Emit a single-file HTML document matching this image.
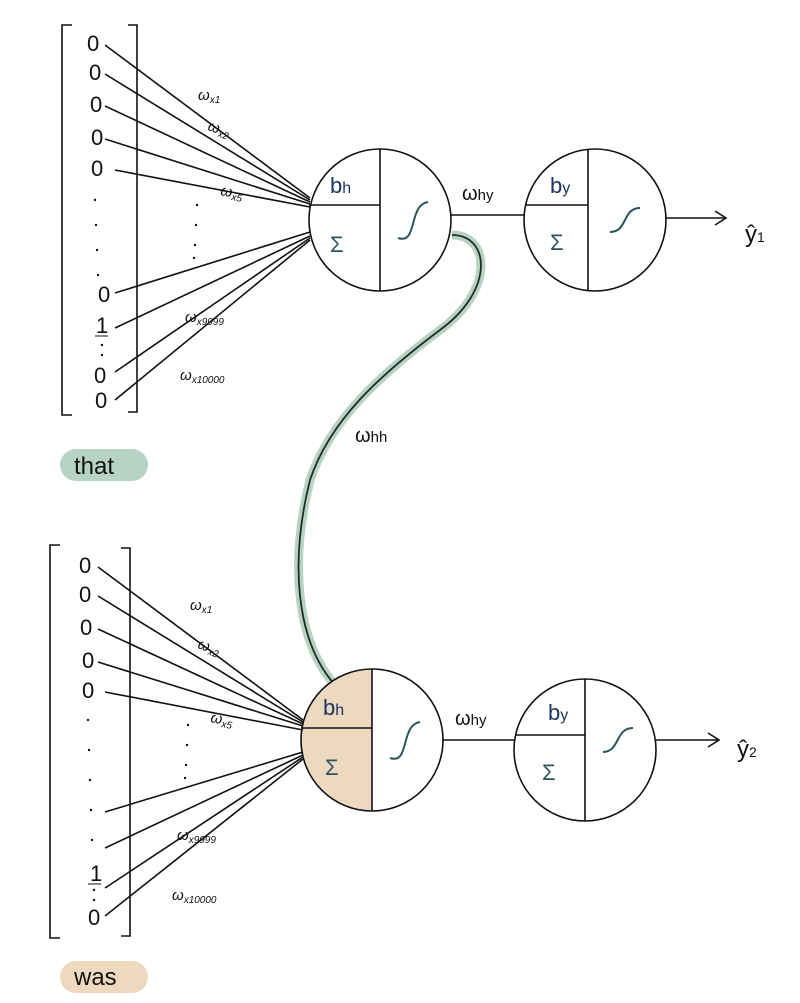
<!DOCTYPE html>
<html><head><meta charset="utf-8"><style>
body{margin:0;background:#fff}
svg{display:block}
text{font-family:"Liberation Sans",sans-serif;fill:#111}
</style></head><body>
<svg width="800" height="1003" viewBox="0 0 800 1003" xmlns="http://www.w3.org/2000/svg">
<g stroke="#111" stroke-width="1.6" fill="none">
<path d="M72 25 L62 25 L62 415 L72 415"/>
<path d="M128 25 L137 25 L137 412 L128 412"/>
<line x1="105" y1="45" x2="310" y2="198"/>
<line x1="105" y1="74" x2="310" y2="200"/>
<line x1="105" y1="106" x2="310" y2="202"/>
<line x1="105" y1="139" x2="310" y2="204"/>
<line x1="115" y1="170" x2="310" y2="207"/>
<line x1="115" y1="293" x2="310" y2="232"/>
<line x1="115" y1="328" x2="310" y2="236"/>
<line x1="115" y1="372" x2="310" y2="238"/>
<line x1="115" y1="400" x2="310" y2="240"/>
<circle cx="380" cy="220" r="71"/>
<line x1="380" y1="149" x2="380" y2="291"/>
<line x1="309" y1="205" x2="380" y2="205"/>
<circle cx="595" cy="220" r="71"/>
<line x1="588" y1="149" x2="588" y2="291"/>
<line x1="525" y1="205" x2="588" y2="205"/>
<line x1="451" y1="215" x2="524" y2="215"/>
<line x1="666" y1="218" x2="725" y2="218"/>
<path d="M715 211 L726 218 L715 225"/>
</g>
<path d="M452 235 C490 235 495 290 440 330 C380 375 330 420 310 480 C290 560 295 640 335 685" stroke="#b9d3c3" stroke-width="9" fill="none"/>
<path d="M452 235 C490 235 495 290 440 330 C380 375 330 420 310 480 C290 560 295 640 335 685" stroke="#1f2e25" stroke-width="1.8" fill="none"/>
<path d="M372 669 A71 71 0 0 0 372 811 Z" fill="#ecd9bf"/>
<g stroke="#111" stroke-width="1.6" fill="none">
<path d="M60 545 L50 545 L50 938 L60 938"/>
<path d="M121 548 L130 548 L130 936 L121 936"/>
<line x1="98" y1="567" x2="303" y2="720"/>
<line x1="98" y1="596" x2="303" y2="722"/>
<line x1="98" y1="629" x2="303" y2="724"/>
<line x1="98" y1="662" x2="303" y2="726"/>
<line x1="105" y1="692" x2="303" y2="730"/>
<line x1="105" y1="812" x2="303" y2="752"/>
<line x1="105" y1="848" x2="303" y2="755"/>
<line x1="105" y1="888" x2="303" y2="757"/>
<line x1="105" y1="916" x2="303" y2="759"/>
<circle cx="372" cy="740" r="71"/>
<line x1="372" y1="669" x2="372" y2="811"/>
<line x1="301" y1="728" x2="372" y2="728"/>
<circle cx="585" cy="750" r="71"/>
<line x1="585" y1="679" x2="585" y2="821"/>
<line x1="515" y1="735" x2="585" y2="735"/>
<line x1="443" y1="740" x2="514" y2="740"/>
<line x1="656" y1="740" x2="718" y2="740"/>
<path d="M708 733 L719 740 L708 747"/>
<path d="M398 238 C418 245 408 205 428 202" stroke="#2b5560" stroke-width="2"/>
<path d="M610 232 C628 232 622 208 640 208" stroke="#2b5560" stroke-width="2"/>
<path d="M390 758 C410 765 400 725 420 722" stroke="#2b5560" stroke-width="2"/>
<path d="M603 752 C620 752 615 728 633 728" stroke="#2b5560" stroke-width="2"/>
</g>
<g fill="#111">
<circle cx="95" cy="200" r="1.2"/><circle cx="96" cy="225" r="1.2"/><circle cx="97" cy="250" r="1.2"/><circle cx="98" cy="275" r="1.2"/>
<circle cx="102" cy="345" r="1.2"/><circle cx="102" cy="355" r="1.2"/>
<circle cx="197" cy="205" r="1.2"/><circle cx="196" cy="225" r="1.2"/><circle cx="195" cy="245" r="1.2"/><circle cx="194" cy="258" r="1.2"/>
<circle cx="88" cy="720" r="1.2"/><circle cx="89" cy="750" r="1.2"/><circle cx="90" cy="780" r="1.2"/><circle cx="91" cy="810" r="1.2"/><circle cx="92" cy="840" r="1.2"/>
<circle cx="94" cy="890" r="1.2"/><circle cx="94" cy="900" r="1.2"/>
<circle cx="188" cy="725" r="1.2"/><circle cx="187" cy="745" r="1.2"/><circle cx="186" cy="765" r="1.2"/><circle cx="185" cy="778" r="1.2"/>
</g>
<g font-size="22">
<text x="87" y="51">0</text><text x="89" y="80">0</text><text x="90" y="112">0</text><text x="91" y="145">0</text><text x="91" y="176">0</text>
<text x="98" y="302">0</text><text x="96" y="333">1</text><line x1="95" y1="336" x2="108" y2="336" stroke="#111"/><text x="94" y="383">0</text><text x="95" y="408">0</text>
<text x="79" y="573">0</text><text x="79" y="602">0</text><text x="80" y="635">0</text><text x="82" y="668">0</text><text x="82" y="698">0</text>
<text x="90" y="881">1</text><line x1="88" y1="884" x2="101" y2="884" stroke="#111"/><text x="88" y="925">0</text>
</g>
<g font-size="15" font-style="italic">
<text x="198" y="100">ω<tspan font-size="10" dy="3">x1</tspan></text>
<text x="207" y="130" transform="rotate(18 207 130)">ω<tspan font-size="10" dy="3">x2</tspan></text>
<text x="220" y="195" transform="rotate(10 220 195)">ω<tspan font-size="10" dy="3">x5</tspan></text>
<text x="185" y="322">ω<tspan font-size="10" dy="3">x9999</tspan></text>
<text x="180" y="380">ω<tspan font-size="10" dy="3">x10000</tspan></text>
<text x="190" y="610">ω<tspan font-size="10" dy="3">x1</tspan></text>
<text x="197" y="648" transform="rotate(18 197 648)">ω<tspan font-size="10" dy="3">x2</tspan></text>
<text x="210" y="722" transform="rotate(10 210 722)">ω<tspan font-size="10" dy="3">x5</tspan></text>
<text x="177" y="840">ω<tspan font-size="10" dy="3">x9999</tspan></text>
<text x="172" y="900">ω<tspan font-size="10" dy="3">x10000</tspan></text>
</g>
<g font-size="20">
<text x="462" y="200">ω<tspan font-size="15">hy</tspan></text>
<text x="455" y="725">ω<tspan font-size="15">hy</tspan></text>
<text x="355" y="442">ω<tspan font-size="15">hh</tspan></text>
</g>
<g font-size="22">
<text x="330" y="193" style="fill:#1b3560">b<tspan font-size="16">h</tspan></text>
<text x="330" y="252" style="fill:#2b5560">Σ</text>
<text x="550" y="193" style="fill:#1b3560">b<tspan font-size="16">y</tspan></text>
<text x="550" y="250" style="fill:#2b5560">Σ</text>
<text x="323" y="715" style="fill:#1b3560">b<tspan font-size="16">h</tspan></text>
<text x="325" y="775" style="fill:#2b5560">Σ</text>
<text x="548" y="720" style="fill:#1b3560">b<tspan font-size="16">y</tspan></text>
<text x="542" y="780" style="fill:#2b5560">Σ</text>
</g>
<text x="745" y="242" font-size="24">ŷ<tspan font-size="14">1</tspan></text>
<text x="737" y="757" font-size="24">ŷ<tspan font-size="14">2</tspan></text>
<rect x="60" y="449" width="88" height="32" rx="16" fill="#b7d3c5"/>
<text x="74" y="474" font-size="24">that</text>
<rect x="60" y="961" width="88" height="32" rx="16" fill="#efd9be"/>
<text x="74" y="985" font-size="24">was</text>
</svg>
</body></html>
